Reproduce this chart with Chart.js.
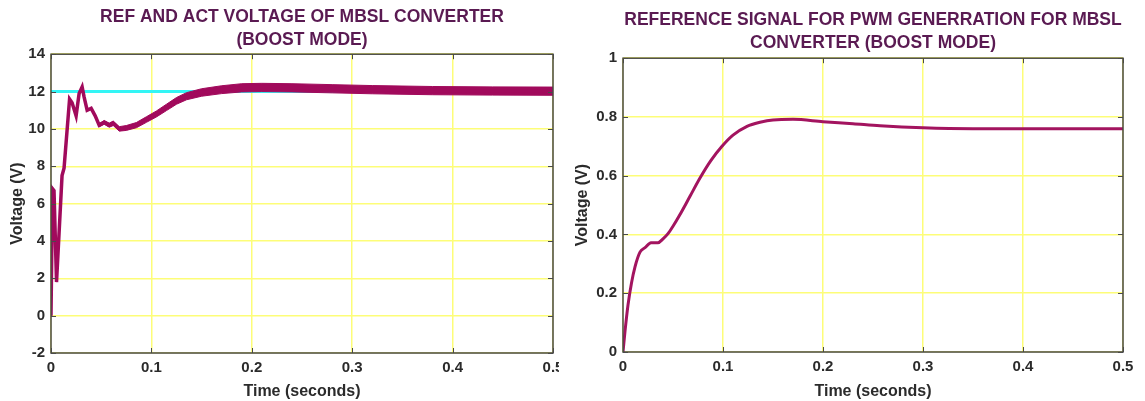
<!DOCTYPE html>
<html><head><meta charset="utf-8">
<script src="https://cdn.jsdelivr.net/npm/chart.js@4.4.1/dist/chart.umd.min.js"></script>
<style>
html,body{margin:0;padding:0;background:#fff;width:1145px;height:401px;overflow:hidden}
.w{position:absolute;top:0;height:401px}
</style></head><body>
<div class="w" style="left:0;width:559px"><canvas id="c1"></canvas></div>
<div class="w" style="left:570px;width:575px"><canvas id="c2"></canvas></div>
<script>
// ---------- data: left chart ----------
const voltTime   = [0,0.0015,0.003,0.0055,0.011,0.013,0.0185,0.021,0.025,0.028,0.031,0.033,0.036,0.04,0.044,0.048,0.053,0.058,0.062,0.068,0.075,0.085,0.095,0.105,0.115,0.125,0.135,0.15,0.17,0.19,0.21,0.24,0.28,0.32,0.38,0.44,0.5];
const actVoltage = [0,6.8,6.7,1.8,7.5,7.9,11.6,11.4,10.7,11.9,12.25,11.7,11.0,11.1,10.7,10.2,10.35,10.2,10.3,10.0,10.05,10.2,10.5,10.8,11.15,11.5,11.75,11.95,12.1,12.2,12.22,12.2,12.15,12.1,12.05,12.03,12.02];
const rippleHalf = [0,0,0,0,0,0,0,0,0,0,0,0,0,0.03,0.06,0.09,0.1,0.11,0.12,0.12,0.13,0.14,0.15,0.16,0.17,0.18,0.19,0.2,0.21,0.22,0.22,0.22,0.22,0.22,0.22,0.22,0.22];
const refTime    = [0,0.5];
const refVoltage = [12,12];
const voltXTicks = [0,0.1,0.2,0.3,0.4,0.5];
const voltXLabels= ['0','0.1','0.2','0.3','0.4','0.5'];
const voltYTicks = [-2,0,2,4,6,8,10,12,14];
const voltYLabels= ['-2','0','2','4','6','8','10','12','14'];

// ---------- data: right chart ----------
const pwmTime = [0,0.002,0.005,0.0085,0.012,0.017,0.022,0.028,0.035,0.04,0.045,0.05,0.057,0.067,0.077,0.088,0.099,0.11,0.124,0.137,0.15,0.17,0.2,0.23,0.257,0.3,0.35,0.4,0.45,0.5];
const pwmRef  = [0,0.07,0.16,0.235,0.29,0.34,0.355,0.372,0.372,0.385,0.403,0.428,0.468,0.53,0.592,0.652,0.70,0.738,0.768,0.782,0.79,0.792,0.784,0.777,0.77,0.763,0.76,0.76,0.76,0.76];
const pwmXTicks = [0,0.1,0.2,0.3,0.4,0.5];
const pwmXLabels= ['0','0.1','0.2','0.3','0.4','0.5'];
const pwmYTicks = [0,0.2,0.4,0.6,0.8,1];
const pwmYLabels= ['0','0.2','0.4','0.6','0.8','1'];

const FAM = '"Liberation Sans", Arial, sans-serif';
const TXT = '#2b2b2b';
const TITLE_COLOR = '#5a1a52';
const GRID = '#fdfd78';
const pts = (xs, ys) => xs.map((x,i)=>({x, y: ys[i]}));

const boxPlugin = {
  id:'box',
  afterDatasetsDraw(chart){
    const {ctx, chartArea:{left,right,top,bottom}, scales:{x,y}} = chart;
    ctx.save();
    ctx.strokeStyle = '#4a4a4a';
    ctx.lineWidth = 1.5;
    ctx.strokeRect(left, top, right-left, bottom-top);
    ctx.lineWidth = 1;
    ctx.beginPath();
    x.ticks.forEach(t=>{
      const px = Math.round(x.getPixelForValue(t.value))+0.5;
      ctx.moveTo(px,bottom); ctx.lineTo(px,bottom-5);
      ctx.moveTo(px,top); ctx.lineTo(px,top+5);
    });
    y.ticks.forEach(t=>{
      const py = Math.round(y.getPixelForValue(t.value))+0.5;
      ctx.moveTo(left,py); ctx.lineTo(left+5,py);
      ctx.moveTo(right,py); ctx.lineTo(right-5,py);
    });
    ctx.stroke();
    ctx.restore();
  }
};

function axes(o){
  const tickFont = {family:FAM, size:15, weight:'bold'};
  const titleFont = {family:FAM, size:16, weight:'bold'};
  return {
    x:{type:'linear', min:0, max:0.5,
       afterBuildTicks:s=>{s.ticks = o.xTicks.map(v=>({value:v}));},
       afterFit:s=>{s.height = o.xH; s.paddingLeft = 0; s.paddingRight = 0;},
       ticks:{font:tickFont, color:TXT, padding:6, maxRotation:0, autoSkip:false,
              callback:(v)=>o.xLabels[o.xTicks.indexOf(v)]},
       grid:{color:GRID, lineWidth:1.5, drawTicks:false},
       border:{display:false},
       title:{display:true, text:'Time (seconds)', font:titleFont, color:TXT, padding:{top:4,bottom:0}}},
    y:{type:'linear', min:o.yMin, max:o.yMax,
       afterBuildTicks:s=>{s.ticks = o.yTicks.map(v=>({value:v}));},
       afterFit:s=>{s.width = o.yW;},
       ticks:{font:tickFont, color:TXT, padding:6, autoSkip:false,
              callback:(v)=>o.yLabels[o.yTicks.indexOf(v)]},
       grid:{color:GRID, lineWidth:1.5, drawTicks:false},
       border:{display:false},
       title:{display:true, text:'Voltage (V)', font:titleFont, color:TXT, padding:{top:o.yTitlePad,bottom:0}}}
  };
}

function titleOpts(lines, pt, pb){
  return {display:true, text:lines, fullSize:false, color:TITLE_COLOR,
          font:{family:FAM, size:17.5, weight:'bold', lineHeight:1.32},
          padding:{top:pt, bottom:pb}};
}

new Chart(document.getElementById('c1'), {
  type:'line',
  data:{datasets:[
    {label:'Act', data:pts(voltTime, actVoltage), borderColor:'#a10a5c', borderWidth:3.5, pointRadius:0, tension:0, order:1},
    {label:'upper', data:pts(voltTime, actVoltage.map((v,i)=>v+rippleHalf[i])), borderColor:'#a10a5c', backgroundColor:'#a10a5c', borderWidth:1, pointRadius:0, tension:0, fill:'+1', order:2},
    {label:'lower', data:pts(voltTime, actVoltage.map((v,i)=>v-rippleHalf[i])), borderColor:'#a10a5c', borderWidth:1, pointRadius:0, tension:0, fill:false, order:2},
    {label:'Ref', data:pts(refTime, refVoltage), borderColor:'#33f5f5', borderWidth:3, pointRadius:0, order:3}
  ]},
  options:{
    responsive:true, maintainAspectRatio:false, animation:false,
    layout:{padding:{left:0,right:6,top:0,bottom:0}},
    plugins:{legend:{display:false}, tooltip:{enabled:false},
      title:titleOpts(['REF AND ACT VOLTAGE OF MBSL CONVERTER','(BOOST MODE)'],5.5,2.5)},
    scales:axes({xTicks:voltXTicks,xLabels:voltXLabels,yTicks:voltYTicks,yLabels:voltYLabels,
                 yMin:-2,yMax:14,xH:48,yW:51,yTitlePad:8})
  },
  plugins:[boxPlugin]
});

new Chart(document.getElementById('c2'), {
  type:'line',
  data:{datasets:[
    {label:'Ref signal', data:pts(pwmTime, pwmRef), borderColor:'#a3145f', borderWidth:3, pointRadius:0, cubicInterpolationMode:'monotone'}
  ]},
  options:{
    responsive:true, maintainAspectRatio:false, animation:false,
    layout:{padding:{left:0,right:22,top:0,bottom:0}},
    plugins:{legend:{display:false}, tooltip:{enabled:false},
      title:titleOpts(['REFERENCE SIGNAL FOR PWM GENERRATION FOR MBSL','CONVERTER (BOOST MODE)'],8.5,3.5)},
    scales:axes({xTicks:pwmXTicks,xLabels:pwmXLabels,yTicks:pwmYTicks,yLabels:pwmYLabels,
                 yMin:0,yMax:1,xH:49,yW:53,yTitlePad:3})
  },
  plugins:[boxPlugin]
});
</script>
</body></html>
